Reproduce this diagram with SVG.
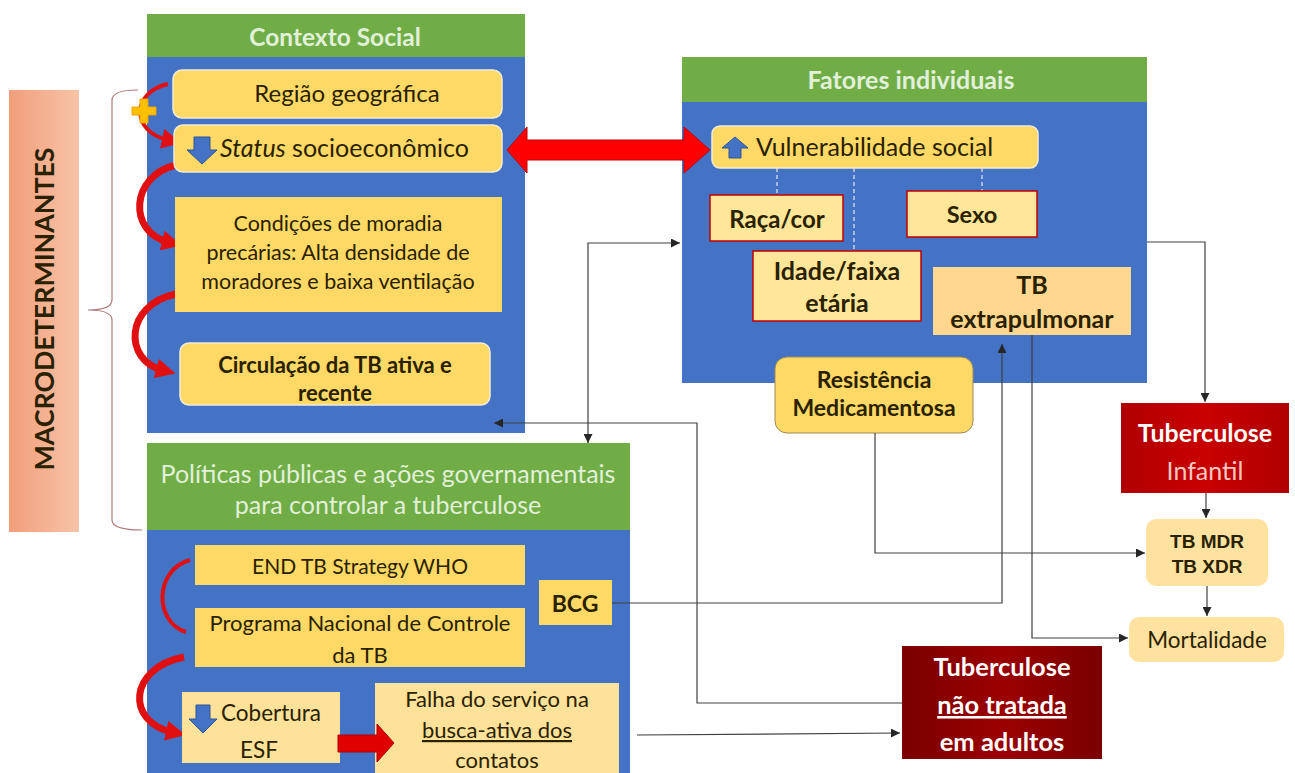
<svg xmlns="http://www.w3.org/2000/svg" width="1295" height="773" viewBox="0 0 1295 773">
<style>
text{font-family:Lato,"Liberation Sans",sans-serif;fill:#2a2100}
.hdr{fill:#70AD47}
.body{fill:#4472C4}
.ht{fill:#E2F0D9;text-anchor:middle}
.c{text-anchor:middle}
.b{font-weight:bold}
.ybox{fill:#FFD966;stroke:#F3EBD3;stroke-width:1.5}
.ybox2{fill:#FFD966}
.pbox{fill:#FFE699;stroke:#C00000;stroke-width:1.5}
.lbox{fill:#FFE29A}
.obox{fill:#FFD78E}
.conn{fill:none;stroke:#404040;stroke-width:1.2}
.dash{fill:none;stroke:#A8B8DA;stroke-width:2;stroke-dasharray:4 3}
.curv{fill:none;stroke:#E01010;stroke-linecap:butt}
.wt{fill:#FFFFFF;text-anchor:middle;font-weight:bold}
</style>
<defs>
<marker id="ah" markerUnits="userSpaceOnUse" markerWidth="9" markerHeight="9" viewBox="0 0 10 10" refX="10" refY="5" orient="auto-start-reverse">
<path d="M0,0 L10,5 L0,10 z" fill="#262626"/>
</marker>
<marker id="rh" markerUnits="userSpaceOnUse" markerWidth="20" markerHeight="20" viewBox="0 0 10 10" refX="3" refY="5" orient="auto">
<path d="M0,0 L10,5 L0,10 z" fill="#E01010"/>
</marker>
<linearGradient id="lab" x1="0" y1="0" x2="1" y2="0">
<stop offset="0" stop-color="#F19E7A"/>
<stop offset="1" stop-color="#F7C3A7"/>
</linearGradient>
<linearGradient id="inf" x1="0" y1="0" x2="1" y2="0">
<stop offset="0" stop-color="#B00000"/>
<stop offset="0.5" stop-color="#C90000"/>
<stop offset="1" stop-color="#B00000"/>
</linearGradient>
<linearGradient id="adu" x1="0" y1="0" x2="1" y2="0">
<stop offset="0" stop-color="#7A0000"/>
<stop offset="0.5" stop-color="#9C0000"/>
<stop offset="1" stop-color="#7A0000"/>
</linearGradient>
</defs>

<g id="macrodeterminantes">
<rect x="9" y="90" width="70" height="442" fill="url(#lab)"/>
<text transform="translate(54,309) rotate(-90)" class="c b" font-size="27" textLength="323" lengthAdjust="spacingAndGlyphs">MACRODETERMINANTES</text>
</g>

<g id="brace">
<path d="M138,90 Q112,90 112,100 L112,300 Q112,310 88,310 Q112,310 112,320 L112,520 Q112,530 142,530" fill="none" stroke="#B07A7A" stroke-width="1.2"/>
</g>

<g id="contexto-social">
<rect class="hdr" x="147" y="14" width="378" height="43"/>
<rect class="body" x="147" y="57" width="378" height="376"/>
<text class="ht b" x="335" y="46" font-size="24.5">Contexto Social</text>
</g>

<g id="curved-arrows-contexto">
<path class="curv" d="M168,84 C131,92 131,132 168,140" stroke-width="4" marker-end="url(#rh)"/>
<path class="curv" d="M176,165 C130,176 128,232 168,242" stroke-width="7" marker-end="url(#rh)"/>
<path class="curv" d="M176,294 C124,305 124,360 162,370" stroke-width="7" marker-end="url(#rh)"/>
<polygon points="140,99 148,99 148,107 156,107 156,115 148,115 148,123 140,123 140,115 132,115 132,107 140,107" fill="#FFC000" stroke="#F0A000" stroke-width="1"/>
</g>

<g id="regiao">
<rect class="ybox" x="173" y="70" width="329" height="48" rx="9"/>
<text class="c" x="347" y="102" font-size="24">Região geográfica</text>
</g>

<g id="status">
<rect class="ybox" x="174" y="125" width="328" height="47" rx="9"/>
<polygon points="194,137 210,137 210,150 217,150 202,164 187,150 194,150" fill="#4472C4" stroke="#2F5597" stroke-width="1"/>
<text x="220" y="157" font-size="25"><tspan font-style="italic">Status</tspan> socioeconômico</text>
</g>

<g id="condicoes">
<rect class="ybox2" x="175" y="197" width="327" height="115"/>
<text class="c" x="338" y="231" font-size="21.5">Condições de moradia</text>
<text class="c" x="338" y="260" font-size="21.5">precárias: Alta densidade de</text>
<text class="c" x="338" y="289" font-size="21.5">moradores e baixa ventilação</text>
</g>

<g id="circulacao">
<rect class="ybox" x="180" y="343" width="310" height="62" rx="9"/>
<text class="c b" x="335" y="373" font-size="22">Circulação da TB ativa e</text>
<text class="c b" x="335" y="401" font-size="22">recente</text>
</g>

<g id="fatores-individuais">
<rect class="hdr" x="682" y="57" width="465" height="45"/>
<rect class="body" x="682" y="102" width="465" height="281"/>
<text class="ht b" x="911" y="89" font-size="25">Fatores individuais</text>
</g>

<g id="dashed-links">
<path class="dash" d="M777,168 V195 M854,168 V251 M982,168 V191"/>
</g>

<g id="vulnerabilidade">
<rect class="ybox" x="712" y="126" width="326" height="42" rx="8" stroke="none"/>
<polygon points="735,137 748,148 741,148 741,158 729,158 729,148 722,148" fill="#4472C4" stroke="#2F5597" stroke-width="1"/>
<text x="756" y="156" font-size="25">Vulnerabilidade social</text>
</g>

<g id="raca-cor">
<rect class="pbox" x="710" y="195" width="133" height="46"/>
<text class="c b" x="777" y="228" font-size="24">Raça/cor</text>
</g>

<g id="sexo">
<rect class="pbox" x="907" y="191" width="130" height="46"/>
<text class="c b" x="972" y="223" font-size="23.5">Sexo</text>
</g>

<g id="idade">
<rect class="pbox" x="753" y="251" width="168" height="70"/>
<text class="c b" x="837" y="280" font-size="25">Idade/faixa</text>
<text class="c b" x="837" y="312" font-size="25">etária</text>
</g>

<g id="tb-extrapulmonar">
<rect class="obox" x="933" y="267" width="198" height="68"/>
<text class="c b" x="1032" y="294" font-size="25">TB</text>
<text class="c b" x="1032" y="328" font-size="25">extrapulmonar</text>
</g>

<g id="resistencia">
<rect x="775" y="357" width="198" height="76" rx="12" fill="#FFD966" stroke="#9C8A5A" stroke-width="1"/>
<text class="c b" x="874" y="388" font-size="23">Resistência</text>
<text class="c b" x="874" y="416" font-size="23">Medicamentosa</text>
</g>

<g id="politicas">
<rect class="hdr" x="147" y="443" width="483" height="87"/>
<rect class="body" x="147" y="530" width="483" height="243"/>
<text class="ht" x="388" y="483" font-size="25">Políticas públicas e ações governamentais</text>
<text class="ht" x="388" y="514" font-size="25">para controlar a tuberculose</text>
</g>

<g id="curved-arrows-politicas">
<path class="curv" d="M190,560 C154,570 154,622 186,632" stroke-width="4" stroke="#A3204A"/>
<path class="curv" d="M184,657 C128,668 126,722 172,732" stroke-width="7" marker-end="url(#rh)"/>
</g>

<g id="end-tb">
<rect class="ybox2" x="195" y="545" width="330" height="40"/>
<text class="c" x="360" y="574" font-size="21">END TB Strategy WHO</text>
</g>

<g id="programa">
<rect class="ybox2" x="195" y="608" width="330" height="59"/>
<text class="c" x="360" y="631" font-size="22">Programa Nacional de Controle</text>
<text class="c" x="360" y="663" font-size="22">da TB</text>
</g>

<g id="bcg">
<rect class="ybox2" x="539" y="580" width="73" height="45"/>
<text class="c b" x="575" y="612" font-size="23">BCG</text>
</g>

<g id="cobertura">
<rect class="lbox" x="182" y="692" width="158" height="71"/>
<polygon points="196,705 210,705 210,719 217,719 203,733 189,719 196,719" fill="#4472C4" stroke="#2F5597" stroke-width="1"/>
<text class="c" x="271" y="721" font-size="22.5">Cobertura</text>
<text class="c" x="259" y="758" font-size="22.5">ESF</text>
</g>

<g id="falha">
<rect class="lbox" x="375" y="683" width="244" height="90"/>
<text class="c" x="497" y="707" font-size="22">Falha do serviço na</text>
<text class="c" x="497" y="738" font-size="22" text-decoration="underline">busca-ativa dos</text>
<text class="c" x="497" y="768" font-size="22">contatos</text>
</g>

<g id="tb-infantil">
<rect x="1121" y="403" width="168" height="90" fill="url(#inf)"/>
<text class="wt" x="1205" y="442" font-size="25">Tuberculose</text>
<text x="1205" y="480" font-size="25" text-anchor="middle" style="fill:#F7C9C0">Infantil</text>
</g>

<g id="tb-mdr-xdr">
<rect x="1146" y="519" width="122" height="67" rx="10" fill="#FFE2A0"/>
<text class="c b" x="1207" y="548" font-size="19" style="font-family:'Liberation Sans',Arial,sans-serif">TB MDR</text>
<text class="c b" x="1207" y="573" font-size="19" style="font-family:'Liberation Sans',Arial,sans-serif">TB XDR</text>
</g>

<g id="mortalidade">
<rect x="1129" y="617" width="155" height="45" rx="10" fill="#FFE2A0"/>
<text class="c" x="1207" y="648" font-size="22.5">Mortalidade</text>
</g>

<g id="tb-nao-tratada">
<rect x="902" y="646" width="200" height="113" fill="url(#adu)"/>
<text class="wt" x="1002" y="676" font-size="25.5">Tuberculose</text>
<text class="wt" x="1002" y="714" font-size="25.5" text-decoration="underline">não tratada</text>
<text class="wt" x="1002" y="751" font-size="25.5">em adultos</text>
</g>

<g id="connectors">
<polygon points="507,150 527,127 527,140 684,140 684,127 710,150 684,173 684,160 527,160 527,173" fill="#FF0000" stroke="#C00000" stroke-width="1"/>
<polygon points="338,735 377,735 377,724 394,743 377,762 377,752 338,752" fill="#E00000" stroke="#B00000" stroke-width="1"/>
<path class="conn" d="M588,443 L588,243 L680,243" marker-start="url(#ah)" marker-end="url(#ah)"/>
<path class="conn" d="M902,703 L697,703 L697,423 L494,423" marker-end="url(#ah)"/>
<path class="conn" d="M612,603 L1002,603 L1002,344" marker-end="url(#ah)"/>
<path class="conn" d="M875,433 L875,553 L1145,553" marker-end="url(#ah)"/>
<path class="conn" d="M1032,335 L1032,638 L1128,638" marker-end="url(#ah)"/>
<path class="conn" d="M1147,242 L1205,242 L1205,402" marker-end="url(#ah)"/>
<path class="conn" d="M1206,493 L1206,518" marker-end="url(#ah)"/>
<path class="conn" d="M1207,586 L1207,616" marker-end="url(#ah)"/>
<path class="conn" d="M637,735 L900,733" marker-end="url(#ah)"/>
</g>
</svg>
